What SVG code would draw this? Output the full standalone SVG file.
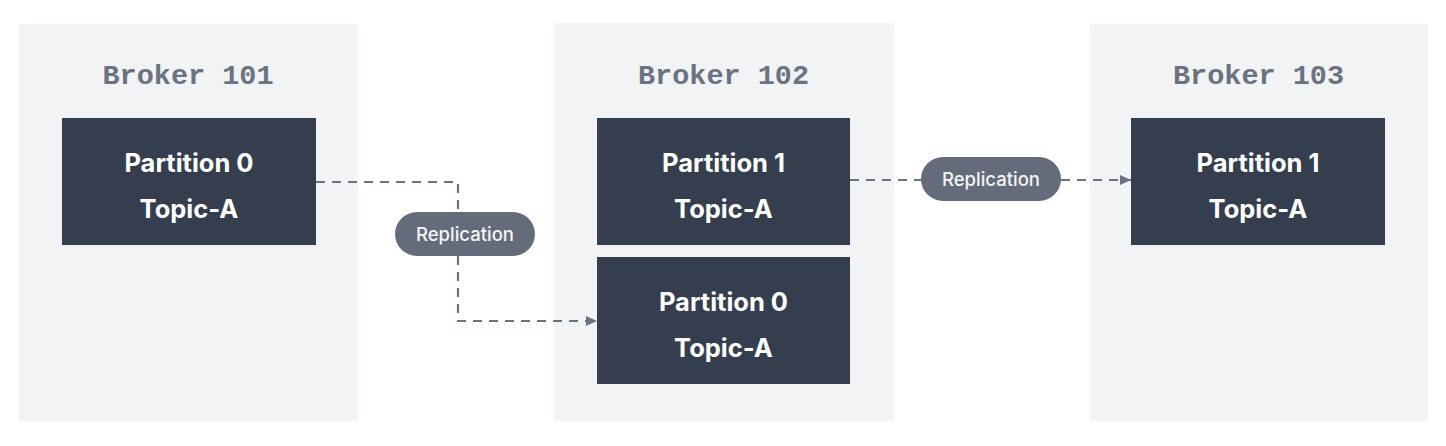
<svg xmlns="http://www.w3.org/2000/svg" width="1446" height="446" viewBox="0 0 1446 446">
  <style>
    .broker { fill: #f2f3f5; }
    .btitle { font-family: "Liberation Mono", "DejaVu Sans Mono", monospace; font-size: 28.5px; font-weight: bold; fill: #6b7282; text-anchor: middle; }
    .part { fill: #353e4e; }
    .ptext { font-family: Inter, "Liberation Sans", sans-serif; font-size: 25.5px; font-weight: 700; fill: #ffffff; text-anchor: middle; }
    .pill { fill: #646c7c; }
    .pilltext { font-family: Inter, "Liberation Sans", sans-serif; font-size: 18.5px; font-weight: 500; fill: #f4f5f7; text-anchor: middle; }
    .conn { fill: none; stroke: #6b7282; stroke-width: 2.2; stroke-dasharray: 9 7; }
  </style>
  <defs>
    <marker id="arrow" viewBox="0 0 10 10" refX="10" refY="5" markerWidth="11" markerHeight="11" markerUnits="userSpaceOnUse" orient="auto">
      <path d="M0,0.5 L10,5 L0,9.5 z" fill="#6b7282"/>
    </marker>
  </defs>
  <rect width="1446" height="446" fill="#ffffff"/>

  <g id="broker101">
    <rect class="broker" x="19" y="24" width="339" height="397"/>
    <text class="btitle" x="188" y="84">Broker 101</text>
  </g>
  <g id="broker102">
    <rect class="broker" x="554" y="23" width="340" height="398"/>
    <text class="btitle" x="723.5" y="84">Broker 102</text>
  </g>
  <g id="broker103">
    <rect class="broker" x="1090" y="24" width="338" height="397"/>
    <text class="btitle" x="1258.5" y="84">Broker 103</text>
  </g>

  <g id="b101-p0">
    <rect class="part" x="62" y="118" width="254" height="127"/>
    <text class="ptext" x="189" y="172">Partition 0</text>
    <text class="ptext" x="189" y="218">Topic-A</text>
  </g>
  <g id="b102-p1">
    <rect class="part" x="597" y="118" width="253" height="127"/>
    <text class="ptext" x="723.5" y="172">Partition 1</text>
    <text class="ptext" x="723.5" y="218">Topic-A</text>
  </g>
  <g id="b102-p0">
    <rect class="part" x="597" y="257" width="253" height="127"/>
    <text class="ptext" x="723.5" y="311">Partition 0</text>
    <text class="ptext" x="723.5" y="357">Topic-A</text>
  </g>
  <g id="b103-p1">
    <rect class="part" x="1131" y="118" width="254" height="127"/>
    <text class="ptext" x="1258" y="172">Partition 1</text>
    <text class="ptext" x="1258" y="218">Topic-A</text>
  </g>

  <g id="connectors">
    <path class="conn" d="M316,182 H458 V212"/>
    <path class="conn" d="M458,256 V321 H597" marker-end="url(#arrow)"/>
    <path class="conn" d="M850,180 H921"/>
    <path class="conn" d="M1061,180 H1131" marker-end="url(#arrow)"/>
  </g>

  <g id="replication1">
    <rect class="pill" x="395" y="212" width="140" height="44" rx="22"/>
    <text class="pilltext" x="465" y="240.5">Replication</text>
  </g>
  <g id="replication2">
    <rect class="pill" x="921" y="157" width="140" height="44" rx="22"/>
    <text class="pilltext" x="991" y="185.5">Replication</text>
  </g>
</svg>
